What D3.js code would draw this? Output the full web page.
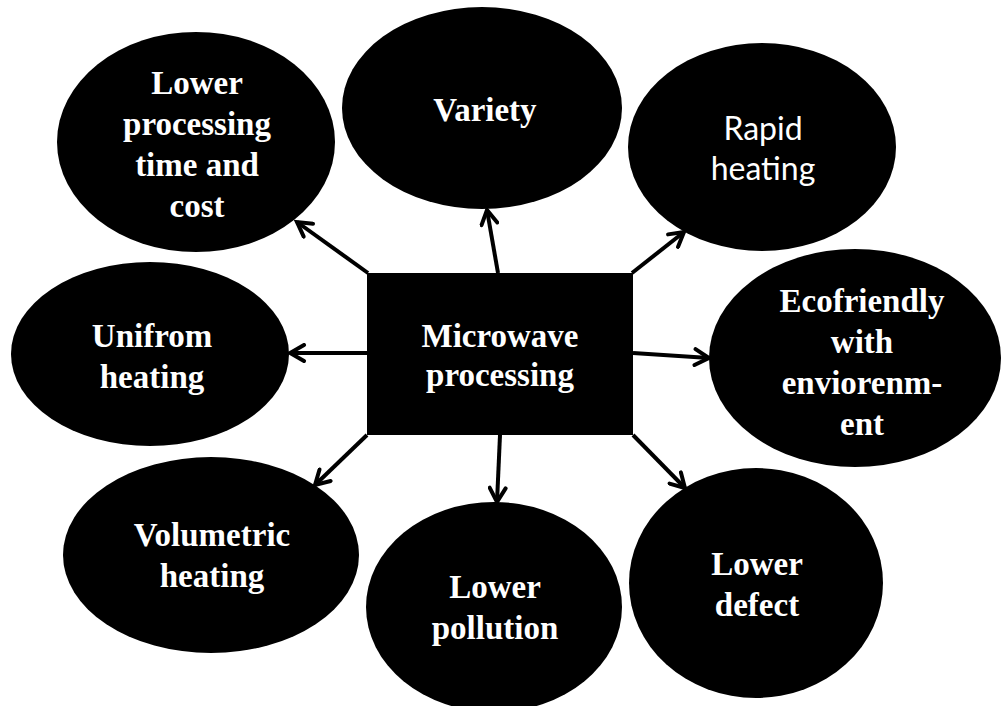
<!DOCTYPE html>
<html>
<head>
<meta charset="utf-8">
<script src="https://cdn.jsdelivr.net/npm/d3@7"></script>
<style>
  html, body { margin: 0; padding: 0; background: #fff; }
  svg { display: block; }
</style>
</head>
<body>
<svg id="chart" width="1005" height="706"></svg>
<script>
// ---- content ----
const centerLabel = ["Microwave", "processing"];
const nodeLabels = [
  ["Lower", "processing", "time and", "cost"],
  ["Variety"],
  ["Rapid", "heating"],
  ["Unifrom", "heating"],
  ["Ecofriendly", "with", "enviorenm-", "ent"],
  ["Volumetric", "heating"],
  ["Lower", "pollution"],
  ["Lower", "defect"]
];
const nodeFonts = ["serif", "serif", "sans", "serif", "serif", "serif", "serif", "serif"];

// ---- layout (pixel geometry, kept separate from content) ----
const rectBox = { x0: 367, y0: 273, x1: 633, y1: 435 };
const ellipses = [
  { cx: 196, cy: 142, rx: 139, ry: 110, tx: 197, ty: 94 },
  { cx: 482, cy: 108, rx: 140, ry: 101, tx: 485, ty: 121 },
  { cx: 762, cy: 147, rx: 134, ry: 104, tx: 763, ty: 140 },
  { cx: 150, cy: 354, rx: 139, ry: 92,  tx: 152, ty: 347 },
  { cx: 855, cy: 358, rx: 146, ry: 109, tx: 862, ty: 312 },
  { cx: 211, cy: 555, rx: 148, ry: 98,  tx: 212, ty: 546 },
  { cx: 494, cy: 607, rx: 128, ry: 105, tx: 495, ty: 598 },
  { cx: 756, cy: 583, rx: 127, ry: 115, tx: 757, ty: 575 }
];
const arrows = [
  { x1: 368, y1: 273, x2: 297, y2: 222 },
  { x1: 498, y1: 273, x2: 487, y2: 210 },
  { x1: 632, y1: 273, x2: 684, y2: 232 },
  { x1: 368, y1: 353, x2: 290, y2: 353 },
  { x1: 633, y1: 353, x2: 709, y2: 358 },
  { x1: 367, y1: 435, x2: 315, y2: 485 },
  { x1: 500, y1: 435, x2: 497, y2: 502 },
  { x1: 633, y1: 435, x2: 685, y2: 488 }
];
const lineStep = 41;

const svg = d3.select("#chart");

// arrowhead marker (open V)
svg.append("defs").append("marker")
  .attr("id", "arrowhead")
  .attr("viewBox", "0 0 20 20")
  .attr("refX", 17).attr("refY", 10)
  .attr("markerWidth", 20).attr("markerHeight", 20)
  .attr("markerUnits", "userSpaceOnUse")
  .attr("orient", "auto")
  .append("path")
  .attr("d", "M3,2 L17,10 L3,18")
  .attr("fill", "none")
  .attr("stroke", "#000")
  .attr("stroke-width", 4)
  .attr("stroke-linecap", "round")
  .attr("stroke-linejoin", "miter");

// arrows
svg.append("g").selectAll("line").data(arrows).join("line")
  .attr("x1", d => d.x1).attr("y1", d => d.y1)
  .attr("x2", d => d.x2).attr("y2", d => d.y2)
  .attr("stroke", "#000").attr("stroke-width", 4)
  .attr("marker-end", "url(#arrowhead)");

// central rectangle
svg.append("rect")
  .attr("x", rectBox.x0).attr("y", rectBox.y0)
  .attr("width", rectBox.x1 - rectBox.x0).attr("height", rectBox.y1 - rectBox.y0)
  .attr("fill", "#000");

svg.append("text")
  .attr("x", (rectBox.x0 + rectBox.x1) / 2)
  .attr("text-anchor", "middle")
  .attr("fill", "#fff")
  .attr("font-family", "'Liberation Serif', 'Times New Roman', serif")
  .attr("font-weight", "bold")
  .attr("font-size", 33)
  .selectAll("tspan").data(centerLabel).join("tspan")
  .attr("x", (rectBox.x0 + rectBox.x1) / 2)
  .attr("y", (d, i) => 347 + i * 39)
  .text(d => d);

// ellipses
const nodes = nodeLabels.map((lab, i) => ({ lines: lab, font: nodeFonts[i], geo: ellipses[i] }));
const g = svg.append("g").selectAll("g").data(nodes).join("g");
g.append("ellipse")
  .attr("cx", d => d.geo.cx).attr("cy", d => d.geo.cy)
  .attr("rx", d => d.geo.rx).attr("ry", d => d.geo.ry)
  .attr("fill", "#000");

g.append("text")
  .attr("text-anchor", "middle")
  .attr("fill", "#fff")
  .attr("font-family", d => d.font === "sans" ? "Lato, 'Open Sans', sans-serif" : "'Liberation Serif', 'Times New Roman', serif")
  .attr("font-weight", d => d.font === "sans" ? "normal" : "bold")
  .attr("font-size", d => d.font === "sans" ? 32 : 33)
  .each(function(d) {
    d3.select(this).selectAll("tspan").data(d.lines).join("tspan")
      .attr("x", d.geo.tx)
      .attr("y", (t, i) => d.geo.ty + i * (d.font === "sans" ? 40 : lineStep))
      .text(t => t);
  });
</script>
</body>
</html>
